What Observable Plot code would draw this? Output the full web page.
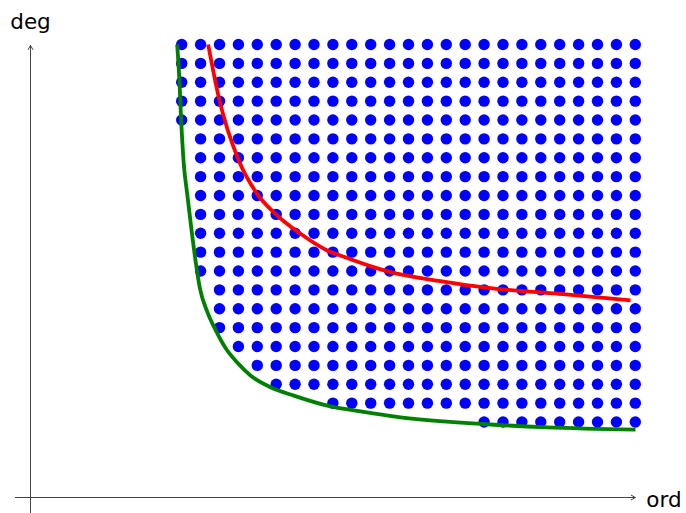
<!DOCTYPE html>
<html>
<head>
<meta charset="utf-8">
<script src="https://cdn.jsdelivr.net/npm/d3@7"></script>
<script src="https://cdn.jsdelivr.net/npm/@observablehq/plot@0.6"></script>
<style>
  html, body { margin: 0; padding: 0; background: #fff; }
  #chart svg { display: block; }
</style>
</head>
<body>
<div id="chart"></div>
<script>
// ---- Data ----
// Lattice columns (ord) and the lowest degree present in each column; top degree is 24
const ords    = [8, 9, 10, 11, 12, 13, 14, 15, 16, 17, 18, 19, 20, 21, 22, 23, 24, 25, 26, 27, 28, 29, 30, 31, 32];
const minDegs = [20, 12, 9, 8, 7, 6, 6, 6, 5, 5, 5, 5, 5, 5, 5, 5, 4, 4, 4, 4, 4, 4, 4, 4, 4];
const maxDeg  = 24;

// Green (lower) curve
const greenOrd = [7.76, 7.88, 7.97, 8.11, 8.29, 8.50, 8.73, 8.96, 9.35, 9.79, 10.32, 10.94, 11.64, 12.70, 13.93, 15.70, 17.46, 19.58, 23.81, 27.34, 32.01];
const greenDeg = [24.0, 22.09, 20.01, 17.68, 16.09, 14.33, 12.56, 11.10, 9.85, 8.88, 7.92, 7.15, 6.46, 5.84, 5.40, 4.87, 4.56, 4.25, 3.90, 3.72, 3.60];

// Red (upper) curve
const redOrd = [9.40, 9.96, 11.02, 11.99, 12.96, 14.29, 15.70, 16.40, 19.05, 21.69, 24.34, 28.04, 31.75];
const redDeg = [24.0, 21.21, 17.85, 16.09, 15.03, 13.97, 13.09, 12.82, 11.94, 11.46, 11.09, 10.79, 10.44];

// Axis extents (data units) and axis titles
const xAxisExtent = [-0.8, 32];
const yAxisExtent = [-0.9, 23.95];
const axisTitles  = ["ord", "deg"];

// ---- Build tables ----
const dots = [];
ords.forEach((o, i) => {
  for (let d = minDegs[i]; d <= maxDeg; d++) dots.push({ord: o, deg: d});
});
const green = greenOrd.map((o, i) => ({ord: o, deg: greenDeg[i]}));
const red = redOrd.map((o, i) => ({ord: o, deg: redDeg[i]}));
const axes = [
  {x1: xAxisExtent[0], y1: 0, x2: xAxisExtent[1], y2: 0},
  {x1: 0, y1: yAxisExtent[0], x2: 0, y2: yAxisExtent[1]}
];

const chart = Plot.plot({
  width: 686,
  height: 513,
  marginLeft: 30,
  marginRight: 51.2,
  marginTop: 44,
  marginBottom: 16,
  x: {domain: [0, 32], axis: null},
  y: {domain: [0, 24], axis: null},
  style: {fontFamily: "DejaVu Sans", background: "#fff"},
  marks: [
    Plot.arrow(axes, {x1: "x1", y1: "y1", x2: "x2", y2: "y2", stroke: "#444", strokeWidth: 1, headLength: 7, headAngle: 60}),
    Plot.dot(dots, {x: "ord", y: "deg", r: 5.7, fill: "#0000ff", stroke: "none"}),
    Plot.line(green, {x: "ord", y: "deg", stroke: "#008000", strokeWidth: 3.8, curve: "monotone-x", strokeLinecap: "butt"}),
    Plot.line(red, {x: "ord", y: "deg", stroke: "#ff0000", strokeWidth: 3.8, curve: "monotone-x", strokeLinecap: "butt"}),
    Plot.text([axisTitles[0]], {x: xAxisExtent[1], y: 0, text: d => d, textAnchor: "start", dx: 11, dy: 2.8, fontSize: 21.5, fill: "#000"}),
    Plot.text([axisTitles[1]], {x: 0, y: yAxisExtent[1], text: d => d, textAnchor: "middle", dy: -23.6, fontSize: 21.5, fill: "#000"})
  ]
});
document.getElementById("chart").appendChild(chart);
</script>
</body>
</html>
